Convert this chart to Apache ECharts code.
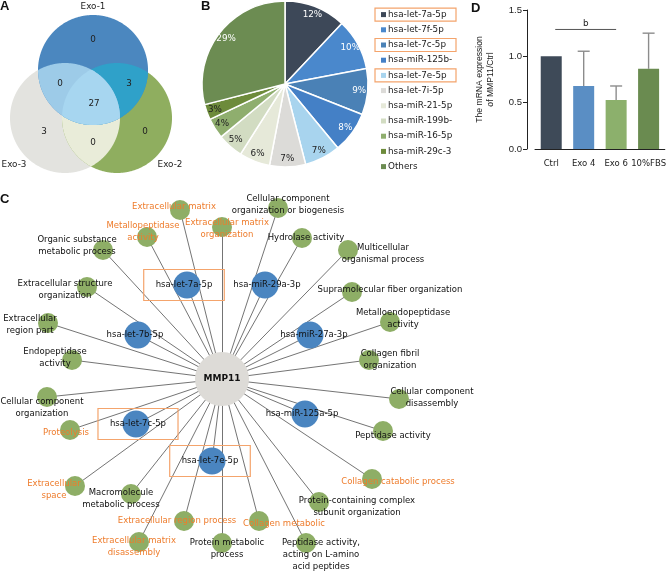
<!DOCTYPE html>
<html><head><meta charset="utf-8">
<script src="https://cdn.jsdelivr.net/npm/echarts@6/dist/echarts.min.js"></script>
<style>html,body{margin:0;padding:0;background:#fff}#c{width:669px;height:573px}</style>
</head><body><div id="c"></div>
<script>
// ---------- Panel A: Venn ----------
const vennSets = ['Exo-1', 'Exo-2', 'Exo-3'];
const vennCX = [93, 117, 65];
const vennCY = [70, 118, 118];
const vennR = [55, 55, 55];
const vennNameX = [93, 170, 14];
const vennNameY = [7, 165, 165];
// regions drawn in order (intersection of listed sets)
const vennRegions = [[2], [1], [1, 2], [0], [0, 1], [0, 2], [0, 1, 2]];
const vennFill = ['#e3e3df', '#8fae5f', '#e9ecd9', '#4b87bf', '#2fa1c9', '#9dcbe8', '#a7d6f0'];
// region counts
const vennCounts = ['0', '0', '3', '27', '3', '0', '0'];
const vennCountX = [93, 60, 129, 94, 44, 145, 93];
const vennCountY = [40, 84, 84, 104, 132, 132, 143];

// ---------- Panel B: Pie ----------
const pieNames = ['hsa-let-7a-5p', 'hsa-let-7f-5p', 'hsa-let-7c-5p', 'hsa-miR-125b-', 'hsa-let-7e-5p', 'hsa-let-7i-5p', 'hsa-miR-21-5p', 'hsa-miR-199b-', 'hsa-miR-16-5p', 'hsa-miR-29c-3', 'Others'];
const pieValues = [12, 10, 9, 8, 7, 7, 6, 5, 4, 3, 29];
const pieColors = ['#3d4858', '#4a88cc', '#4a81b6', '#4480c6', '#a8d4ee', '#dcdbd8', '#e6e9d9', '#d2dcc2', '#8fae6e', '#6d8b3b', '#6c8c52'];
const pieBoxed = ['hsa-let-7a-5p', 'hsa-let-7c-5p', 'hsa-let-7e-5p'];
const pieLightLabel = [0, 0, 0, 0, 1, 1, 1, 1, 1, 1, 0];

// ---------- Panel D: Bars ----------
const barCats = ['Ctrl', 'Exo 4', 'Exo 6', '10%FBS'];
const barMeans = [1.0, 0.68, 0.53, 0.865];
const barErrTop = [null, 1.055, 0.68, 1.25];
const barColors = ['#3e4a58', '#5a8ec4', '#8cb06c', '#6a8b50'];
const sigPair = [0, 2];
const sigLevel = 1.29;
const sigText = 'b';

// ---------- Panel C: Network ----------
const hubName = 'MMP11';
const hubXY = [222, 379];
const mirNames = ['hsa-let-7a-5p', 'hsa-miR-29a-3p', 'hsa-let-7b-5p', 'hsa-miR-27a-3p', 'hsa-let-7c-5p', 'hsa-miR-125a-5p', 'hsa-let-7e-5p'];
const mirX = [187, 265, 138, 310, 136, 305, 212];
const mirY = [285, 285, 335, 335, 424, 414, 461];
const mirLabelX = [184, 267, 135, 314, 138, 302, 210];
const mirLabelY = [285, 285, 335, 335, 424, 414, 461];
const mirBoxed = [1, 0, 0, 0, 1, 0, 1];
const goNames = ['Extracellular matrix', 'Metallopeptidase\nactivity', 'Extracellular matrix\norganization', 'Cellular component\norganization or biogenesis', 'Organic substance\nmetabolic process', 'Hydrolase activity', 'Multicellular\norganismal process', 'Extracellular structure\norganization', 'Supramolecular fiber organization', 'Extracellular\nregion part', 'Metalloendopeptidase\nactivity', 'Endopeptidase\nactivity', 'Collagen fibril\norganization', 'Cellular component\norganization', 'Cellular component\ndisassembly', 'Proteolysis', 'Peptidase activity', 'Collagen catabolic process', 'Extracellular\nspace', 'Macromolecule\nmetabolic process', 'Protein-containing complex\nsubunit organization', 'Extracellular region process', 'Collagen metabolic', 'Extracellular matrix\ndisassembly', 'Protein metabolic\nprocess', 'Peptidase activity,\nacting on L-amino\nacid peptides'];
const goX = [180, 147, 222, 278, 103, 302, 348, 87, 352, 48, 390, 72, 369, 47, 399, 70, 383, 372, 75, 131, 319, 184, 259, 139, 222, 306];
const goY = [210, 237, 227, 208, 250, 238, 250, 287, 292, 323, 322, 360, 360, 397, 399, 430, 431, 479, 486, 494, 502, 521, 521, 542, 543, 543];
const goLabelX = [174, 143, 227, 288, 77, 306, 383, 65, 390, 30, 403, 55, 390, 42, 432, 66, 393, 398, 54, 121, 357, 177, 284, 134, 227, 321];
const goLabelY = [207, 232, 229, 205, 246, 238, 254, 290, 290, 325, 319, 358, 360, 408, 398, 433, 436, 482, 490, 499, 507, 521, 524, 547, 549, 555];
const goOrange = [1, 1, 1, 0, 0, 0, 0, 0, 0, 0, 0, 0, 0, 0, 0, 1, 0, 1, 1, 0, 0, 1, 1, 1, 0, 0];

const FONT = 'DejaVu Sans';
const ORANGE = '#ee7c2c';
const BOX = '#f4a46c';

const chart = echarts.init(document.getElementById('c'), null, { renderer: 'canvas' });

// Venn polygons
function regionPoly(set, api) {
  const cs = set.map(k => {
    const c = api.coord([vennCX[k], vennCY[k]]);
    const r = Math.abs(api.size([vennR[k], vennR[k]])[0]);
    return { x: c[0], y: c[1], r: r };
  });
  const pts = [];
  const N = 720;
  cs.forEach((c, i) => {
    for (let j = 0; j < N; j++) {
      const a = j / N * Math.PI * 2;
      const x = c.x + c.r * Math.cos(a), y = c.y + c.r * Math.sin(a);
      let ok = true;
      cs.forEach((o, k) => { if (k !== i && Math.hypot(x - o.x, y - o.y) > o.r + 0.01) ok = false; });
      if (ok) pts.push([x, y]);
    }
  });
  let mx = 0, my = 0;
  pts.forEach(p => { mx += p[0]; my += p[1]; });
  mx /= pts.length; my /= pts.length;
  pts.sort((p, q) => Math.atan2(p[1] - my, p[0] - mx) - Math.atan2(q[1] - my, q[0] - mx));
  return pts;
}

// network nodes
const nodes = [];
nodes.push({
  name: hubName, value: hubXY, symbolSize: 54, itemStyle: { color: '#dddbd7' },
  label: { show: true, position: 'inside', color: '#111', fontFamily: FONT, fontWeight: 'bold', fontSize: 9 }
});
mirNames.forEach((n, i) => {
  const lab = {
    show: true, position: 'inside', offset: [mirLabelX[i] - mirX[i], mirLabelY[i] - mirY[i]],
    color: '#111', fontFamily: FONT, fontSize: 8.5, align: 'center', verticalAlign: 'middle'
  };
  if (mirBoxed[i]) { lab.borderColor = BOX; lab.borderWidth = 1.2; lab.padding = [11, 12, 11, 12]; }
  nodes.push({ name: n, value: [mirX[i], mirY[i]], symbolSize: 27, itemStyle: { color: '#4a85c0' }, label: lab });
});
goNames.forEach((n, i) => {
  nodes.push({
    name: n, value: [goX[i], goY[i]], symbolSize: 20, itemStyle: { color: '#8eae66' },
    label: {
      show: true, position: 'inside', offset: [goLabelX[i] - goX[i], goLabelY[i] - goY[i]],
      color: goOrange[i] ? ORANGE : '#111', fontFamily: FONT, fontSize: 8.5, lineHeight: 12,
      align: 'center', verticalAlign: 'middle'
    }
  });
});
const links = nodes.slice(1).map(nd => ({ source: hubName, target: nd.name }));

// legend rich styles
const rich = { t: { fontFamily: FONT, fontSize: 8.8, color: '#222', padding: [0, 0, 0, 2] } };
pieColors.forEach((c, i) => { rich['c' + i] = { width: 5, height: 5, backgroundColor: c }; });

const option = {
  animation: false,
  backgroundColor: '#fff',
  title: [
    { text: 'A', left: 0, top: 0 },
    { text: 'B', left: 201, top: 0 },
    { text: 'C', left: 0, top: 193 },
    { text: 'D', left: 471, top: 2 }
  ].map(t => Object.assign(t, { padding: 0, textStyle: { fontSize: 13, fontWeight: 'bold', fontFamily: 'Liberation Sans', color: '#111' } })),
  grid: [
    { left: 0, top: 0, width: 669, height: 573 },
    { left: 535, top: 10, width: 130, height: 139 }
  ],
  xAxis: [
    { gridIndex: 0, type: 'value', min: 0, max: 669, show: false },
    {
      gridIndex: 1, type: 'category', data: barCats,
      axisLine: { lineStyle: { color: '#222', width: 1 } },
      axisTick: { alignWithLabel: true, length: 5, lineStyle: { color: '#222' } },
      axisLabel: { interval: 0, fontFamily: FONT, fontSize: 8.5, color: '#222', margin: 10, hideOverlap: false }
    }
  ],
  yAxis: [
    { gridIndex: 0, type: 'value', min: 0, max: 573, inverse: true, show: false },
    {
      gridIndex: 1, type: 'value', min: 0, max: 1.5, interval: 0.5, offset: 8,
      axisLine: { show: true, lineStyle: { color: '#222', width: 1 } },
      axisTick: { show: true, length: 4, lineStyle: { color: '#222' } },
      splitLine: { show: false },
      axisLabel: { formatter: v => v.toFixed(1), fontFamily: 'Liberation Sans', fontSize: 9.5, color: '#222', margin: 5 },
      name: 'The mRNA expression\nof MMP11/Ctrl', nameLocation: 'middle', nameGap: 31,
      nameTextStyle: { fontFamily: 'Liberation Sans', fontSize: 8.6, color: '#222', lineHeight: 11 }
    }
  ],
  legend: {
    orient: 'vertical', left: 369, top: 7.5, padding: 0,
    itemWidth: 0, itemHeight: 0, itemGap: 1,
    selectedMode: false,
    data: pieNames.map(n => ({
      name: n,
      textStyle: {
        borderColor: pieBoxed.indexOf(n) >= 0 ? BOX : 'rgba(0,0,0,0)',
        borderWidth: 1.2, padding: [2, 4, 2, 6], width: 71, lineHeight: 9
      }
    })),
    formatter: name => '{c' + pieNames.indexOf(name) + '|}{t|' + name + '}',
    textStyle: { rich: rich, fontFamily: FONT, fontSize: 8.8 }
  },
  series: [
    {
      type: 'custom', name: 'venn', coordinateSystem: 'cartesian2d', xAxisIndex: 0, yAxisIndex: 0,
      silent: true, z: 1,
      data: vennRegions.map(s => [vennCX[s[0]], vennCY[s[0]]]),
      renderItem: (params, api) => ({
        type: 'polygon', shape: { points: regionPoly(vennRegions[params.dataIndex], api) },
        style: { fill: vennFill[params.dataIndex], stroke: null }
      })
    },
    {
      type: 'custom', name: 'vennText', coordinateSystem: 'cartesian2d', xAxisIndex: 0, yAxisIndex: 0,
      silent: true, z: 2,
      data: vennCounts.map((c, i) => [vennCountX[i], vennCountY[i], c]).concat(vennSets.map((s, i) => [vennNameX[i], vennNameY[i], s])),
      renderItem: (params, api) => {
        const p = api.coord([api.value(0), api.value(1)]);
        const txt = params.dataIndex < vennCounts.length ? vennCounts[params.dataIndex] : vennSets[params.dataIndex - vennCounts.length];
        return {
          type: 'text', x: p[0], y: p[1],
          style: { text: txt, fill: '#222', fontFamily: FONT, fontSize: 8.8, align: 'center', verticalAlign: 'middle', textAlign: 'center', textVerticalAlign: 'middle' }
        };
      }
    },
    {
      type: 'pie', name: 'pie', center: [285, 84], radius: 83, startAngle: 90, clockwise: true,
      silent: true, z: 2,
      data: pieNames.map((n, i) => ({ name: n, value: pieValues[i], itemStyle: { color: pieColors[i] } })),
      itemStyle: { borderColor: '#fff', borderWidth: 1.5 },
      label: { show: false }, labelLine: { show: false }
    },
    {
      type: 'pie', name: 'pieLabels', center: [285, 84], radius: [60, 83], startAngle: 90, clockwise: true,
      silent: true, z: 3,
      data: pieNames.map((n, i) => ({
        name: n, value: pieValues[i], itemStyle: { color: 'rgba(0,0,0,0)' },
        label: { color: pieLightLabel[i] ? '#222' : '#fff' }
      })),
      itemStyle: { borderWidth: 0 },
      label: { show: true, position: 'inside', formatter: '{c}%', fontFamily: FONT, fontSize: 8.8 },
      labelLine: { show: false }
    },
    {
      type: 'bar', name: 'bars', xAxisIndex: 1, yAxisIndex: 1, barWidth: 21, silent: true,
      data: barMeans.map((v, i) => ({ value: v, itemStyle: { color: barColors[i] } }))
    },
    {
      type: 'custom', name: 'err', xAxisIndex: 1, yAxisIndex: 1, silent: true, z: 3,
      data: barCats.map((c, i) => [i, barMeans[i], barErrTop[i] == null ? barMeans[i] : barErrTop[i]]),
      renderItem: (params, api) => {
        const i = params.dataIndex;
        if (barErrTop[i] == null) return null;
        const p0 = api.coord([api.value(0), api.value(1)]);
        const p1 = api.coord([api.value(0), api.value(2)]);
        const st = { stroke: '#8c8c8c', lineWidth: 1.4 };
        return {
          type: 'group', children: [
            { type: 'line', shape: { x1: p0[0], y1: p0[1], x2: p1[0], y2: p1[1] }, style: st },
            { type: 'line', shape: { x1: p1[0] - 6, y1: p1[1], x2: p1[0] + 6, y2: p1[1] }, style: st }
          ]
        };
      }
    },
    {
      type: 'custom', name: 'sig', xAxisIndex: 1, yAxisIndex: 1, silent: true, z: 3,
      data: [[sigPair[0], sigPair[1], sigLevel]],
      renderItem: (params, api) => {
        const a = api.coord([api.value(0), api.value(2)]);
        const b = api.coord([api.value(1), api.value(2)]);
        return {
          type: 'group', children: [
            { type: 'line', shape: { x1: a[0] + 4, y1: a[1], x2: b[0], y2: b[1] }, style: { stroke: '#555', lineWidth: 1 } },
            { type: 'text', x: (a[0] + b[0]) / 2 + 2, y: a[1] - 6, style: { text: sigText, fill: '#222', fontFamily: FONT, fontSize: 8.8, align: 'center', verticalAlign: 'middle', textAlign: 'center', textVerticalAlign: 'middle' } }
          ]
        };
      }
    },
    {
      type: 'graph', name: 'network', coordinateSystem: 'cartesian2d', xAxisIndex: 0, yAxisIndex: 0,
      silent: true, z: 4, symbol: 'circle',
      data: nodes, links: links,
      lineStyle: { color: '#505050', width: 0.8, opacity: 1, curveness: 0 },
      emphasis: { disabled: true }
    }
  ]
};
chart.setOption(option);
</script></body></html>
